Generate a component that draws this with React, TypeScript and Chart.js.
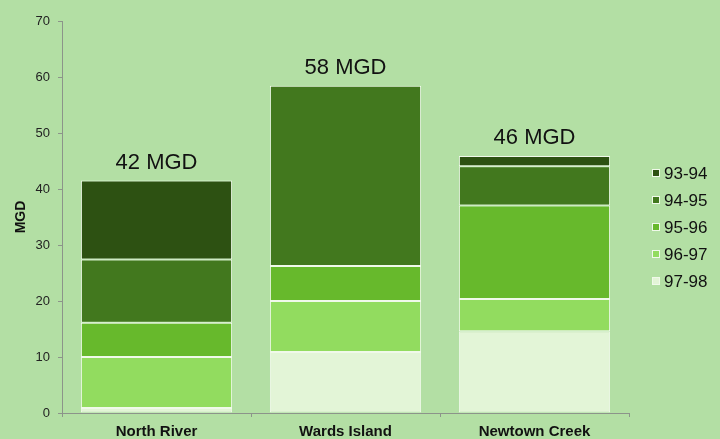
import React, { useEffect, useRef } from "react";
import { Chart, registerables } from "chart.js";

Chart.register(...registerables);

const categories = ["North River", "Wards Island", "Newtown Creek"];
const seriesLabels = ["93-94", "94-95", "95-96", "96-97", "97-98"];
const s9394 = [14.1, 0, 1.85];
const s9495 = [11.3, 32.2, 7.0];
const s9596 = [6.1, 6.25, 16.7];
const s9697 = [9.1, 9.1, 5.75];
const s9798 = [0.9, 10.9, 14.6];
const totalLabels = ["42 MGD", "58 MGD", "46 MGD"];
const yTicks = [0, 10, 20, 30, 40, 50, 60, 70];

const colors = ["#2d5112", "#42781e", "#67b92c", "#92dc5f", "#e3f5d7"];
const FONT = "'Liberation Sans', Arial, Helvetica, sans-serif";

export default function App() {
  const ref = useRef<HTMLCanvasElement | null>(null);

  useEffect(() => {
    const canvas = ref.current;
    if (!canvas) return;
    const seriesValues = [s9394, s9495, s9596, s9697, s9798];
    // stacking order: bottom first (97-98) ... top last (93-94)
    const order = [4, 3, 2, 1, 0];
    const datasets = order.map((i) => ({
      label: seriesLabels[i],
      data: seriesValues[i],
      backgroundColor: colors[i],
      borderColor: "#f0f9ea",
      borderWidth: 1,
      borderSkipped: false as const,
    }));

    const totalsPlugin = {
      id: "totals",
      afterDatasetsDraw(chart: any) {
        const ctx = chart.ctx;
        const y = chart.scales.y;
        const x = chart.scales.x;
        ctx.save();
        ctx.font = `22px ${FONT}`;
        ctx.fillStyle = "#111";
        ctx.textAlign = "center";
        ctx.textBaseline = "middle";
        categories.forEach((_, ci) => {
          let sum = 0;
          seriesValues.forEach((s) => (sum += s[ci]));
          const px = x.getPixelForValue(ci);
          const py = y.getPixelForValue(sum) - 18;
          ctx.fillText(totalLabels[ci], px, py);
        });
        ctx.restore();
      },
    };

    const legendPlugin = {
      id: "customLegend",
      afterDraw(chart: any) {
        const ctx = chart.ctx;
        const area = chart.chartArea;
        ctx.save();
        ctx.font = `17px ${FONT}`;
        ctx.textBaseline = "middle";
        ctx.textAlign = "left";
        const bx = area.right + 23;
        seriesLabels.forEach((lab, i) => {
          const cy = 173 + i * 27;
          ctx.fillStyle = colors[i];
          ctx.fillRect(bx, cy - 4, 8, 8);
          ctx.strokeStyle = "#f0f9ea";
          ctx.lineWidth = 1;
          ctx.strokeRect(bx + 0.5, cy - 3.5, 7, 7);
          ctx.fillStyle = "#111";
          ctx.fillText(lab, bx + 12, cy + 1);
        });
        ctx.restore();
      },
    };

    const chart = new Chart(canvas, {
      type: "bar",
      data: { labels: categories, datasets },
      options: {
        responsive: false,
        animation: false,
        layout: { padding: { left: 8, right: 91, top: 21, bottom: 0 } },
        plugins: {
          legend: { display: false },
          tooltip: { enabled: false },
        },
        datasets: {
          bar: { categoryPercentage: 0.8, barPercentage: 1 },
        },
        scales: {
          x: {
            stacked: true,
            afterFit(scale: any) {
              scale.height = 26;
            },
            grid: {
              display: true,
              drawOnChartArea: false,
              drawTicks: true,
              tickLength: 4,
              color: "#8c948a",
              offset: true,
            },
            border: { display: true, color: "#8c948a", width: 1 },
            ticks: {
              padding: 6,
              color: "#111",
              font: { family: FONT, size: 15, weight: "bold" },
            },
          },
          y: {
            stacked: true,
            min: 0,
            max: 70,
            afterBuildTicks(scale: any) {
              scale.ticks = yTicks.map((v) => ({ value: v }));
            },
            afterFit(scale: any) {
              scale.width = 54;
            },
            grid: {
              display: true,
              drawOnChartArea: false,
              drawTicks: true,
              tickLength: 4,
              color: "#8c948a",
            },
            border: { display: true, color: "#8c948a", width: 1 },
            ticks: {
              padding: 8,
              color: "#222",
              font: { family: FONT, size: 13 },
            },
            title: {
              display: true,
              text: "MGD",
              color: "#111",
              font: { family: FONT, size: 14, weight: "bold" },
              padding: { top: 5, bottom: 0 },
            },
          },
        },
      },
      plugins: [totalsPlugin, legendPlugin],
    });
    return () => chart.destroy();
  }, []);

  return (
    <div style={{ position: "fixed", left: 0, top: 0, width: 720, height: 439, background: "#b3dfa4" }}>
      <canvas ref={ref} width={720} height={439} style={{ display: "block", width: 720, height: 439 }} />
    </div>
  );
}
